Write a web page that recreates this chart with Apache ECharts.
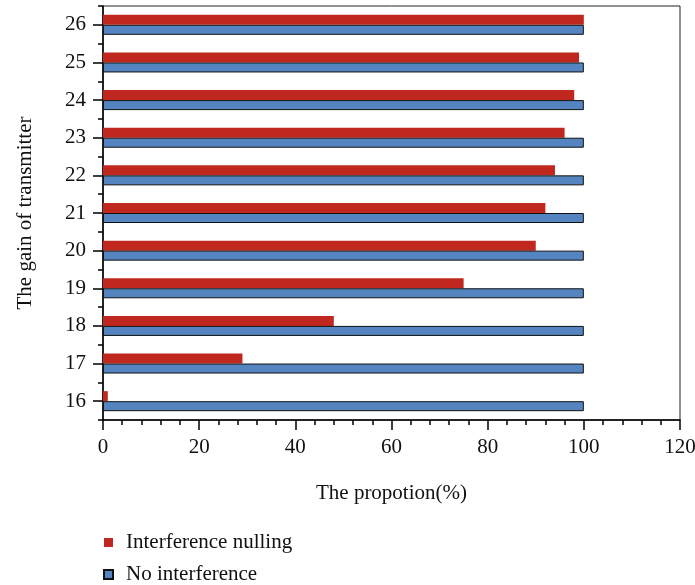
<!DOCTYPE html>
<html>
<head>
<meta charset="utf-8">
<script src="https://cdn.jsdelivr.net/npm/echarts@6/dist/echarts.min.js"></script>
<style>
  html, body { margin: 0; padding: 0; background: #fff; }
  #chart { width: 695px; height: 585px; }
</style>
</head>
<body>
<div id="chart"></div>
<script>
// Transmitter gain levels (y categories)
const gains = ['16', '17', '18', '19', '20', '21', '22', '23', '24', '25', '26'];
// Proportion (%) of successful transmissions per gain level
const nullingValues = [1, 29, 48, 75, 90, 92, 94, 96, 98, 99, 100];
const noInterferenceValues = [100, 100, 100, 100, 100, 100, 100, 100, 100, 100, 100];
// Series names
const nullingName = 'Interference nulling';
const noInterfName = 'No interference';

const FONT = 'Liberation Serif';
const chart = echarts.init(document.getElementById('chart'));

chart.setOption({
  animation: false,
  textStyle: { fontFamily: FONT, color: '#111' },
  grid: {
    left: 103, top: 6, right: 15, bottom: 165,
    outerBoundsMode: 'none',
    containLabel: false,
    show: true, borderColor: '#222', borderWidth: 1, backgroundColor: 'transparent'
  },
  legend: {
    orient: 'vertical',
    left: 103, top: 532,
    padding: 0,
    itemWidth: 9, itemHeight: 9, itemGap: 11,
    icon: 'rect',
    data: [nullingName, noInterfName],
    textStyle: { fontFamily: FONT, fontSize: 21, color: '#111', padding: [0, 0, 0, 8] }
  },
  xAxis: {
    type: 'value',
    min: 0, max: 120, interval: 20,
    name: 'The propotion(%)',
    nameLocation: 'middle', nameGap: 63,
    nameTextStyle: { fontFamily: FONT, fontSize: 21, color: '#111' },
    axisLine: { show: true, lineStyle: { color: '#000', width: 1.5 } },
    axisTick: { show: true, length: 10, lineStyle: { color: '#000', width: 1.5 } },
    minorTick: { show: true, splitNumber: 5, length: 5, lineStyle: { color: '#000', width: 1.5 } },
    axisLabel: { fontFamily: FONT, fontSize: 21, color: '#111', margin: 17 },
    splitLine: { show: false }
  },
  yAxis: [
    {
      // band-boundary ticks (short)
      type: 'category',
      data: gains,
      position: 'left',
      name: 'The gain of transmitter',
      nameLocation: 'middle', nameGap: 67, nameRotate: 90,
      nameTextStyle: { fontFamily: FONT, fontSize: 21, color: '#111' },
      axisLine: { show: true, lineStyle: { color: '#000', width: 1.5 } },
      axisTick: { show: true, length: 5, lineStyle: { color: '#000', width: 1.5 } },
      axisLabel: { show: false },
      splitLine: { show: false }
    },
    {
      // centred ticks with labels
      type: 'category',
      data: gains,
      position: 'left',
      axisLine: { show: false },
      axisTick: { show: true, alignWithLabel: true, length: 10, lineStyle: { color: '#000', width: 1.5 } },
      axisLabel: { fontFamily: FONT, fontSize: 21, color: '#111', margin: 17 },
      splitLine: { show: false }
    }
  ],
  series: [
    {
      name: nullingName,
      type: 'bar',
      yAxisIndex: 0,
      data: nullingValues,
      barWidth: 10,
      barGap: '0%',
      itemStyle: { color: '#c0281f' }
    },
    {
      name: noInterfName,
      type: 'bar',
      yAxisIndex: 0,
      data: noInterferenceValues,
      barWidth: 10,
      barGap: '0%',
      itemStyle: { color: '#5585c1', borderColor: '#111', borderWidth: 1 }
    }
  ]
});
</script>
</body>
</html>
